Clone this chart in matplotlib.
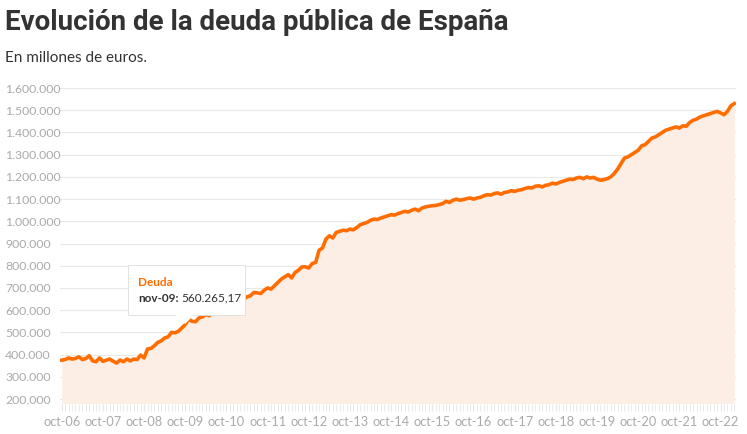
import matplotlib.pyplot as plt
import numpy as np

# deuda en miles de millones, mensual desde oct-06
y2006 = [375, 378, 385]
y2007 = [380, 383, 390, 378, 382, 395, 372, 368, 385, 370, 375, 380]
y2008 = [370, 362, 376, 368, 380, 372, 380, 378, 398, 385, 425, 428]
y2009 = [440, 455, 462, 475, 480, 500, 498, 505, 520, 535, 560.265, 550]
y2010 = [548, 565, 570, 580, 575, 595, 600, 610, 605, 620, 615, 630]
y2011 = [640, 655, 650, 660, 665, 680, 678, 675, 690, 700, 695, 710]
y2012 = [725, 740, 750, 760, 745, 770, 780, 795, 795, 790, 810, 815]
y2013 = [870, 880, 920, 935, 925, 950, 955, 960, 958, 965, 962, 972]
y2014 = [985, 990, 995, 1005, 1010, 1008, 1015, 1020, 1025, 1030, 1028, 1035]
y2015 = [1040, 1045, 1042, 1050, 1055, 1048, 1060, 1065, 1068, 1070, 1072, 1075]
y2016 = [1080, 1090, 1085, 1095, 1100, 1095, 1098, 1102, 1105, 1100, 1105, 1108]
y2017 = [1115, 1120, 1118, 1125, 1128, 1122, 1130, 1132, 1138, 1135, 1140, 1142]
y2018 = [1148, 1152, 1150, 1158, 1160, 1155, 1162, 1165, 1172, 1168, 1175, 1180]
y2019 = [1185, 1190, 1188, 1195, 1198, 1192, 1200, 1195, 1198, 1190, 1185, 1188]
y2020 = [1192, 1200, 1215, 1235, 1260, 1285, 1290, 1300, 1310, 1320, 1340, 1345]
y2021 = [1360, 1375, 1380, 1390, 1400, 1410, 1415, 1420, 1425, 1420, 1430, 1428]
y2022 = [1445, 1455, 1460, 1470, 1475, 1480, 1485, 1490, 1495, 1488, 1480, 1495]
y2023 = [1520, 1530]

deuda = np.array(y2006 + y2007 + y2008 + y2009 + y2010 + y2011 + y2012 + y2013 + y2014
                 + y2015 + y2016 + y2017 + y2018 + y2019 + y2020 + y2021 + y2022 + y2023) * 1000
x = np.arange(len(deuda))

xlabels = ["oct-%02d" % a for a in range(6, 23)]
xticks = np.arange(len(xlabels)) * 12
yticks = np.arange(200000, 1600001, 100000)

def fmt(v):
    return "{:,}".format(int(v)).replace(",", ".")

orange = "#ff6d00"
gray = "#aaaaaa"

fig = plt.figure(figsize=(7.47, 4.34), dpi=100)
ax = fig.add_axes([60 / 747, 1 - 403.5 / 434, 676 / 747, (403.5 - 83.6) / 434])

ax.fill_between(x, deuda, 180000, color="#fdeee5", lw=0)
ax.plot(x, deuda, color=orange, lw=2.6, solid_joinstyle="round")

ax.set_ylim(180000, 1620000)
ax.set_xlim(-0.5, len(deuda) - 0.5)
ax.set_yticks(yticks)
ax.set_yticklabels([fmt(v) for v in yticks], fontsize=8.8, color=gray, family="Lato")
for lab in ax.get_yticklabels():
    lab.set_ha("left")
ax.tick_params(axis="y", length=0, pad=39.5)
ax.grid(axis="y", color="#e8e8e8", lw=0.8)
ax.set_xticks(xticks)
ax.set_xticklabels(xlabels, fontsize=9.2, color=gray, family="Lato")
ax.set_xticks(x, minor=True)
ax.tick_params(axis="x", which="both", length=5, color="#e6e6e6", pad=4)
for s in ax.spines.values():
    s.set_visible(False)
ax.set_axisbelow(True)

fig.text(5 / 747, 1 - 22 / 434, "Evolución de la deuda pública de España", fontsize=20,
         fontweight="bold", color="#333333", family="Roboto", va="center")
fig.text(5 / 747, 1 - 58 / 434, "En millones de euros.", fontsize=11,
         color="#333333", family="Lato", va="center")

# tooltip
t1 = fig.text(138 / 747, 1 - 283 / 434, "Deuda", fontsize=8.5, fontweight="bold",
              color=orange, family="Lato", va="center")
t2 = fig.text(138 / 747, 1 - 298 / 434, "nov-09:", fontsize=8.5, fontweight="bold",
              color="#333333", family="Lato", va="center")
t3 = fig.text(181 / 747, 1 - 298 / 434, "560.265,17", fontsize=8.5,
              color="#333333", family="Lato", va="center")
for t in (t1, t2, t3):
    t.set_zorder(6)
box = plt.Rectangle((128 / 747, 1 - 315 / 434), 117 / 747, 50 / 434, transform=fig.transFigure,
                    facecolor="white", edgecolor="#dddddd", lw=0.6, zorder=5)
fig.patches.append(box)
tri = plt.Polygon([(176 / 747, 1 - 315 / 434), (194 / 747, 1 - 315 / 434), (185 / 747, 1 - 324 / 434)],
                  transform=fig.transFigure, facecolor="white", edgecolor="none", zorder=5)
fig.patches.append(tri)

fig.savefig("out.png", dpi=100)
